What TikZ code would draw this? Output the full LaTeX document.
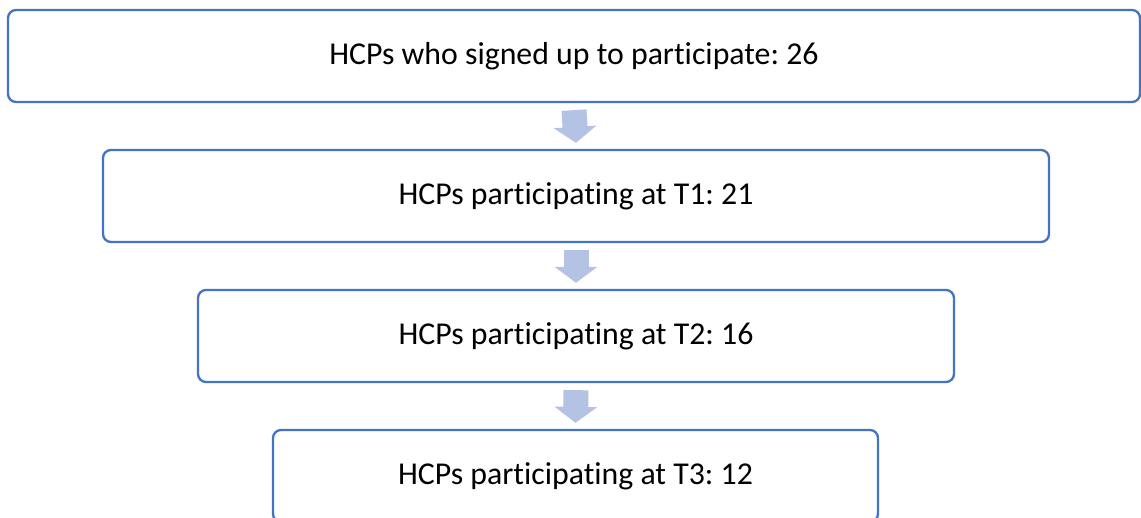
\documentclass[tikz,border=0pt]{standalone}
\usepackage{fontspec}
\setmainfont{Carlito}[Ligatures=NoCommon]
\frenchspacing
\usetikzlibrary{arrows.meta, positioning}
\definecolor{hcpblue}{HTML}{4472C4}
\definecolor{hcparrow}{HTML}{B4C2E4}
\tikzset{
  hcp/.style={
    font=\fontsize{31.8}{36}\selectfont,
    x=1pt, y=1pt,
  },
  stagebox/.style={
    draw=hcpblue, fill=white, rounded corners=8pt, line width=2.3pt,
    minimum height=92pt, inner sep=3pt, align=center,
  },
  dropflow/.style={
    draw=hcparrow, line width=25pt,
    -{Triangle[width=42pt, length=16pt]},
  },
}
\begin{document}
\begin{tikzpicture}[hcp]
  \useasboundingbox (0,0) rectangle (1141,517);
  \node[stagebox, minimum width=1132pt] (signed) at (574,461) {HCPs who signed up to participate: 26};
  \node[stagebox, minimum width=946pt] (tone) at (576,321) {HCPs participating at T1: 21};
  \node[stagebox, minimum width=756pt] (ttwo) at (576,181) {HCPs participating at T2: 16};
  \node[stagebox, minimum width=605pt] (tthree) at (575.5,41) {HCPs participating at T3: 12};

  \draw[dropflow] ([yshift=-7pt]signed.south) -- ([yshift=6pt]tone.north);
  \draw[dropflow] ([yshift=-7pt]tone.south) -- ([yshift=6pt]ttwo.north);
  \draw[dropflow] ([yshift=-7pt]ttwo.south) -- ([yshift=6pt]tthree.north);
\end{tikzpicture}
\end{document}
